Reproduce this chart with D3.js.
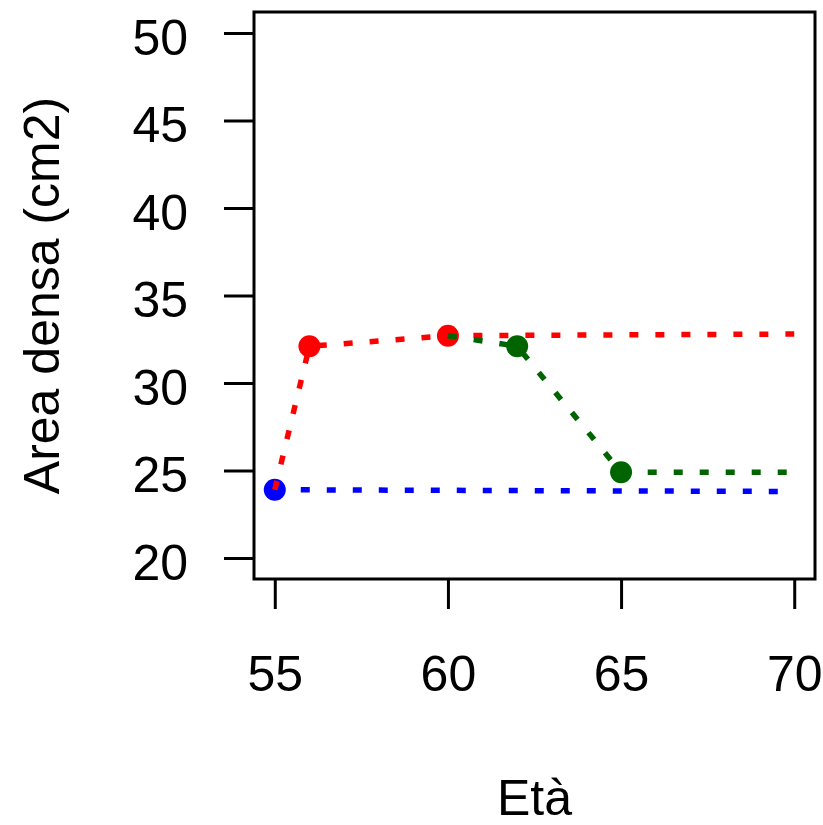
<!DOCTYPE html>
<html>
<head>
<meta charset="utf-8">
<script src="https://cdn.jsdelivr.net/npm/d3@7"></script>
<style>
  body { margin: 0; background: #fff; }
  svg { display: block; }
  text { font-family: "Liberation Sans", Arial, sans-serif; fill: #000; }
</style>
</head>
<body>
<svg id="chart" width="823" height="825"></svg>
<script>
const width = 823;
const height = 825;

// axis ticks
const ageTicks = [55, 60, 65, 70];
const areaTicks = [20, 25, 30, 35, 40, 45, 50];

// blue series (only the first observation)
const blueLineAge = [55, 70];
const blueLineArea = [23.9, 23.8];
const bluePointAge = [55];
const bluePointArea = [23.9];

// red series
const redLineAge = [55, 56, 60, 70];
const redLineArea = [23.9, 32.1, 32.7, 32.8];
const redPointAge = [56, 60];
const redPointArea = [32.1, 32.7];

// green series
const greenLineAge = [60, 62, 65, 70];
const greenLineArea = [32.7, 32.1, 24.9, 24.9];
const greenPointAge = [62, 65];
const greenPointArea = [32.1, 24.9];

const svg = d3.select("#chart");

// R style: 4% padding around data range
const x = d3.scaleLinear().domain([54.4, 70.6]).range([254, 815]);
const y = d3.scaleLinear().domain([18.8, 51.2]).range([579, 12]);

// axes
const yAxis = d3.axisLeft(y)
    .tickValues(areaTicks)
    .tickSize(30)
    .tickSizeOuter(0)
    .tickPadding(36);

const xAxis = d3.axisBottom(x)
    .tickValues(ageTicks)
    .tickSize(30)
    .tickSizeOuter(0)
    .tickPadding(46);

const gy = svg.append("g")
    .attr("transform", `translate(${x.range()[0]},0)`)
    .call(yAxis);

const gx = svg.append("g")
    .attr("transform", `translate(0,${y.range()[0]})`)
    .call(xAxis);

[gx, gy].forEach(g => {
  g.select(".domain").remove();
  g.selectAll(".tick line").attr("stroke", "#000").attr("stroke-width", 3);
  g.selectAll(".tick text")
    .attr("fill", "#000")
    .style("font-size", "50px");
});
gy.selectAll(".tick text").attr("dy", "0.42em");

// plot box
svg.append("rect")
    .attr("x", x.range()[0])
    .attr("y", y.range()[1])
    .attr("width", x.range()[1] - x.range()[0])
    .attr("height", y.range()[0] - y.range()[1])
    .attr("fill", "none")
    .attr("stroke", "#000")
    .attr("stroke-width", 3);

const line = d3.line()
    .x(d => x(d[0]))
    .y(d => y(d[1]));

function drawSeries(lineAge, lineArea, pointAge, pointArea, color) {
  const pts = d3.zip(lineAge, lineArea);
  svg.append("path")
      .datum(pts)
      .attr("d", line)
      .attr("fill", "none")
      .attr("stroke", color)
      .attr("stroke-width", 5.5)
      .attr("stroke-dasharray", "9 17");

  svg.selectAll(null)
      .data(d3.zip(pointAge, pointArea))
      .enter()
      .append("circle")
      .attr("cx", d => x(d[0]))
      .attr("cy", d => y(d[1]))
      .attr("r", 11)
      .attr("fill", color);
}

drawSeries(blueLineAge, blueLineArea, bluePointAge, bluePointArea, "#0000ff");
drawSeries(redLineAge, redLineArea, redPointAge, redPointArea, "#ff0000");
drawSeries(greenLineAge, greenLineArea, greenPointAge, greenPointArea, "#006400");

// axis titles
svg.append("text")
    .attr("x", (x.range()[0] + x.range()[1]) / 2)
    .attr("y", 815)
    .attr("text-anchor", "middle")
    .style("font-size", "50px")
    .text("Età");

svg.append("text")
    .attr("transform", `translate(59,${(y.range()[0] + y.range()[1]) / 2}) rotate(-90)`)
    .attr("text-anchor", "middle")
    .style("font-size", "50px")
    .text("Area densa (cm2)");
</script>
</body>
</html>
